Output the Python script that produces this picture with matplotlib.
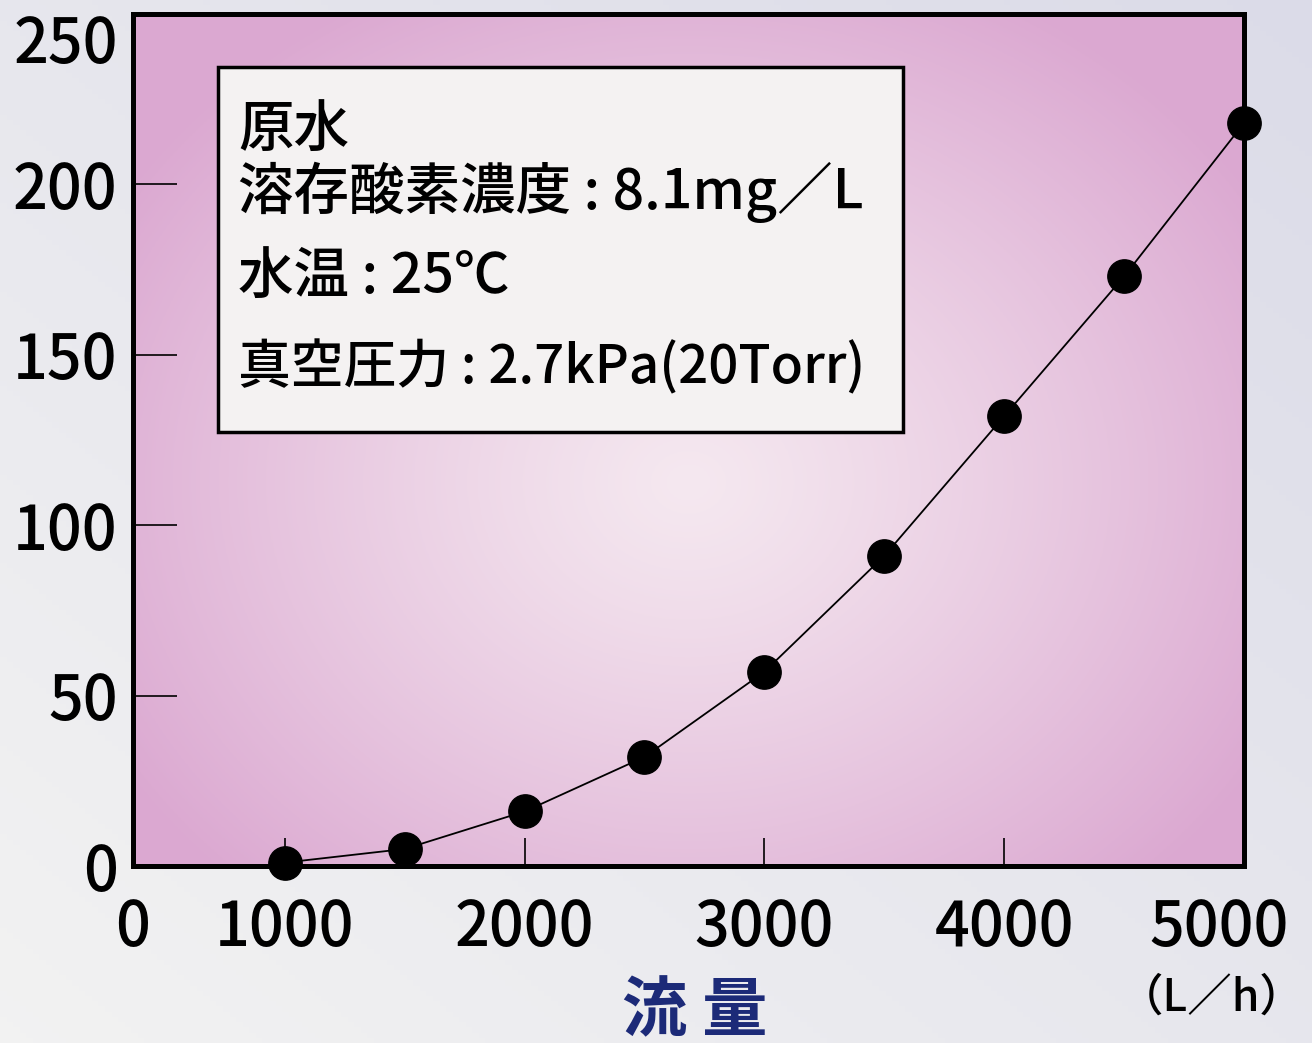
import numpy as np
import matplotlib.pyplot as plt
from matplotlib.patches import Rectangle
from matplotlib.transforms import ScaledTranslation

plt.rcParams['font.family'] = ['Noto Sans CJK JP', 'DejaVu Sans']
plt.rcParams['font.weight'] = 'medium'

# 流量 (L/h) と 測定値
flow = [1000, 1500, 2000, 2500, 3000, 3500, 4000, 4500, 5000]
value = [1, 5, 16, 32, 57, 91, 132, 173, 218]

xticks = [1000, 2000, 3000, 4000, 5000]
xlabels = ['1000', '2000', '3000', '4000', '5000']
yticks = [0, 50, 100, 150, 200, 250]

box_lines = ['原水', '溶存酸素濃度 : 8.1mg／L', '水温 : 25℃', '真空圧力 : 2.7kPa(20Torr)']
box_sizes = [40, 40, 40, 38]

W, H = 1312, 1043
fig = plt.figure(figsize=(W / 100, H / 100), dpi=100)

# 背景 (薄いグレー)
bg = fig.add_axes([0, 0, 1, 1], zorder=-10)
gx, gy = np.meshgrid(np.linspace(0, 1, 200), np.linspace(0, 1, 200))
shade = 0.5 * gx + 0.5 * (1 - gy)
c0 = np.array([0.95, 0.95, 0.95])
c1 = np.array([0.86, 0.86, 0.91])
img = c0 + (c1 - c0) * shade[..., None]
bg.imshow(img, extent=[0, 1, 0, 1], origin='upper', aspect='auto')
bg.axis('off')

left, right = 133 / W, 1244 / W
bottom, top = 1 - 866 / H, 1 - 14 / H
ax = fig.add_axes([left, bottom, right - left, top - bottom])

xmin, xmax = 367, 5000
ax.set_xlim(xmin, xmax)
ax.set_ylim(0, 250)

# ピンクのグラデーション
rx, ry = np.meshgrid(np.linspace(0, 1, 300), np.linspace(0, 1, 300))
d = np.sqrt(((rx - 0.5) / 0.6) ** 2 + ((ry - 0.55) / 0.65) ** 2)
t = np.clip(d, 0, 1) ** 1.2
pink = np.array([0.86, 0.66, 0.82])
light = np.array([0.96, 0.91, 0.94])
grad = light + (pink - light) * t[..., None]
ax.imshow(grad, extent=[xmin, xmax, 0, 250], origin='upper', aspect='auto', zorder=0)

ax.plot(flow, value, color='black', lw=1.3, zorder=3)
ax.plot(flow, value, 'o', color='black', ms=24, zorder=4, clip_on=False)

for s in ax.spines.values():
    s.set_linewidth(3.6)
    s.set_zorder(5)

ax.set_xticks([xmin] + xticks)
ax.set_xticklabels(['0'] + xlabels)
ax.set_yticks(yticks)
ax.tick_params(axis='x', direction='in', length=20, width=1.2, pad=22, labelsize=44)
ax.tick_params(axis='y', direction='in', length=32, width=1.2, pad=11, labelsize=44)
xt = ax.xaxis.get_major_ticks()
xt[0].tick1line.set_visible(False)
xt[-1].tick1line.set_visible(False)
lab5000 = ax.get_xticklabels()[-1]
lab5000.set_transform(lab5000.get_transform() + ScaledTranslation(-0.25, 0, fig.dpi_scale_trans))
yl = ax.get_yticklabels()
yl[-1].set_va('top')
yl[0].set_va('center_baseline')
for tk in [ax.yaxis.get_major_ticks()[0], ax.yaxis.get_major_ticks()[-1]]:
    tk.tick1line.set_visible(False)

# 条件の枠
ax.add_patch(Rectangle(((218 - 133) / 1111, (866 - 432) / 852), (903 - 218) / 1111, (432 - 67) / 852,
                       transform=ax.transAxes, facecolor='#f4f2f2', edgecolor='black', lw=2.5, zorder=6))
ys = [130, 192, 277, 368]
for txt, py, fs in zip(box_lines, ys, box_sizes):
    fig.text(238 / W, 1 - py / H, txt, fontsize=fs, va='center', ha='left', zorder=10)

fig.text(695 / W, 1 - 1012 / H, '流 量', fontsize=47, fontweight='bold', color='#1c2a78',
         ha='center', va='center')
fig.text(1212 / W, 1 - 998 / H, '（L／h）', fontsize=32, ha='center', va='center')

fig.savefig('out.png', dpi=100)
